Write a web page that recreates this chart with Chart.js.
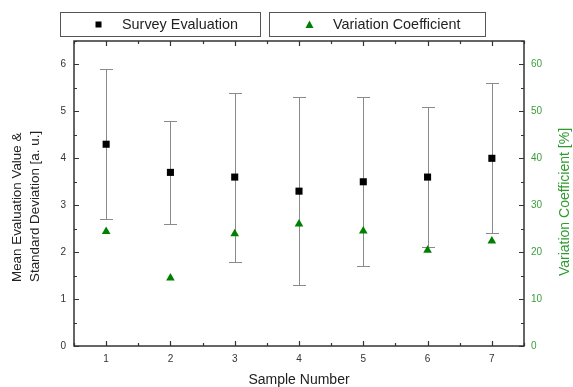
<!DOCTYPE html>
<html>
<head>
<meta charset="utf-8">
<script src="https://cdn.jsdelivr.net/npm/chart.js@4/dist/chart.umd.min.js"></script>
<style>
  html, body { margin: 0; padding: 0; background: #fff; }
  #wrap { width: 573px; height: 387px; position: relative; }
</style>
</head>
<body>
<div id="wrap"><canvas id="c" width="573" height="387"></canvas></div>
<script>
// Survey results per sample
const sampleNumbers = [1, 2, 3, 4, 5, 6, 7];
const meanValues    = [4.3, 3.7, 3.6, 3.3, 3.5, 3.6, 4.0];
const stdDeviations = [1.6, 1.1, 1.8, 2.0, 1.8, 1.5, 1.6];
const variationCoefficient = [24.4, 14.5, 23.9, 26.0, 24.5, 20.4, 22.4];

// Axis tick values
const leftTicks  = [0, 1, 2, 3, 4, 5, 6];
const rightTicks = [0, 10, 20, 30, 40, 50, 60];

const GREEN = '#008000';
const GREEN_TEXT = '#3a9d3a';
const FONT = '"Liberation Sans", Arial, sans-serif';

// Error bars for the mean values, drawn under the markers
const errorBars = {
  id: 'errorBars',
  beforeDatasetsDraw(chart) {
    const { ctx, scales: { x, y } } = chart;
    ctx.save();
    ctx.strokeStyle = '#8a8a8a';
    ctx.lineWidth = 1;
    sampleNumbers.forEach((s, i) => {
      const px = Math.round(x.getPixelForValue(s)) + 0.5;
      const top = Math.round(y.getPixelForValue(meanValues[i] + stdDeviations[i])) + 0.5;
      const bot = Math.round(y.getPixelForValue(meanValues[i] - stdDeviations[i])) + 0.5;
      ctx.beginPath();
      ctx.moveTo(px, top); ctx.lineTo(px, bot);
      ctx.moveTo(px - 6.5, top); ctx.lineTo(px + 6.5, top);
      ctx.moveTo(px - 6.5, bot); ctx.lineTo(px + 6.5, bot);
      ctx.stroke();
    });
    ctx.restore();
  }
};

// Frame with inward tick marks, axis titles and boxed legend
const frameAndLabels = {
  id: 'frameAndLabels',
  afterDraw(chart) {
    const { ctx, chartArea: a, scales: { x, y, y1 } } = chart;
    ctx.save();
    ctx.strokeStyle = '#333';
    ctx.lineWidth = 1.5;
    ctx.strokeRect(a.left, a.top, a.right - a.left, a.bottom - a.top);

    ctx.lineWidth = 1.2;
    ctx.beginPath();
    // x ticks: major on samples, minor halfway, on bottom and top
    for (let v = x.min; v <= x.max + 1e-9; v += 0.5) {
      const px = Math.round(x.getPixelForValue(v)) + 0.5;
      const len = Number.isInteger(v) ? 5 : 3;
      ctx.moveTo(px, a.bottom); ctx.lineTo(px, a.bottom - len);
      ctx.moveTo(px, a.top); ctx.lineTo(px, a.top + len);
    }
    // left ticks
    for (let v = 0; v <= y.max + 1e-9; v += 0.5) {
      const py = Math.round(y.getPixelForValue(v)) + 0.5;
      const len = Number.isInteger(v) ? 5 : 3;
      ctx.moveTo(a.left, py); ctx.lineTo(a.left + len, py);
    }
    // right ticks
    for (let v = 0; v <= y1.max + 1e-9; v += 5) {
      const py = Math.round(y1.getPixelForValue(v)) + 0.5;
      const len = v % 10 === 0 ? 5 : 3;
      ctx.moveTo(a.right, py); ctx.lineTo(a.right - len, py);
    }
    ctx.stroke();

    // axis titles
    ctx.fillStyle = '#222';
    ctx.font = '14px ' + FONT;
    ctx.textAlign = 'center';
    ctx.textBaseline = 'middle';
    ctx.fillText('Sample Number', (a.left + a.right) / 2, 380);

    ctx.save();
    ctx.translate(17, 282);
    ctx.rotate(-Math.PI / 2);
    ctx.font = '13.4px ' + FONT;
    ctx.textAlign = 'left';
    ctx.fillText('Mean Evaluation Value &', 0, 0);
    ctx.fillText('Standard Deviation [a. u.]', 0, 18);
    ctx.restore();

    ctx.save();
    ctx.translate(565, 202);
    ctx.rotate(-Math.PI / 2);
    ctx.fillStyle = '#2f9a2f';
    ctx.font = '14px ' + FONT;
    ctx.textAlign = 'center';
    ctx.fillText('Variation Coefficient [%]', 0, 0);
    ctx.restore();

    // legend boxes
    ctx.strokeStyle = '#555';
    ctx.lineWidth = 1;
    ctx.strokeRect(60.5, 12.5, 200, 24);
    ctx.strokeRect(269.5, 12.5, 216, 24);
    ctx.fillStyle = '#000';
    ctx.fillRect(95.5, 21.5, 6, 6);
    ctx.fillStyle = GREEN;
    ctx.beginPath();
    ctx.moveTo(309.5, 20.5); ctx.lineTo(313.5, 28); ctx.lineTo(305.5, 28);
    ctx.closePath(); ctx.fill();
    ctx.fillStyle = '#222';
    ctx.font = '14.4px ' + FONT;
    ctx.textAlign = 'left';
    ctx.fillText('Survey Evaluation', 122, 25.5);
    ctx.fillText('Variation Coefficient', 333, 25.5);
    ctx.restore();
  }
};

const tickFont = { family: FONT, size: 10 };

new Chart(document.getElementById('c'), {
  type: 'scatter',
  data: {
    datasets: [
      {
        label: 'Survey Evaluation',
        data: sampleNumbers.map((s, i) => ({ x: s, y: meanValues[i] })),
        yAxisID: 'y',
        pointStyle: 'rect',
        pointRadius: 5,
        backgroundColor: '#000',
        borderColor: '#000',
        borderWidth: 0
      },
      {
        label: 'Variation Coefficient',
        data: sampleNumbers.map((s, i) => ({ x: s, y: variationCoefficient[i] })),
        yAxisID: 'y1',
        pointStyle: 'triangle',
        pointRadius: 5,
        backgroundColor: GREEN,
        borderColor: GREEN,
        borderWidth: 0
      }
    ]
  },
  options: {
    responsive: false,
    animation: false,
    layout: { padding: { top: 41, left: 0, right: 0, bottom: 0 } },
    plugins: { legend: { display: false }, tooltip: { enabled: false } },
    scales: {
      x: {
        type: 'linear',
        min: 0.5, max: 7.5,
        grid: { display: false, drawTicks: false },
        border: { display: false },
        afterBuildTicks: s => { s.ticks = sampleNumbers.map(v => ({ value: v })); },
        afterFit: s => { s.height = 41; },
        ticks: { font: tickFont, color: '#333', padding: 7, maxRotation: 0 }
      },
      y: {
        position: 'left',
        min: 0, max: 6.5,
        grid: { display: false, drawTicks: false },
        border: { display: false },
        afterBuildTicks: s => { s.ticks = leftTicks.map(v => ({ value: v })); },
        afterFit: s => { s.width = 74; },
        ticks: { font: tickFont, color: '#333', padding: 8 }
      },
      y1: {
        position: 'right',
        min: 0, max: 65,
        grid: { display: false, drawTicks: false },
        border: { display: false },
        afterBuildTicks: s => { s.ticks = rightTicks.map(v => ({ value: v })); },
        afterFit: s => { s.width = 49; },
        ticks: { font: tickFont, color: GREEN_TEXT, padding: 7 }
      }
    }
  },
  plugins: [errorBars, frameAndLabels]
});
</script>
</body>
</html>
